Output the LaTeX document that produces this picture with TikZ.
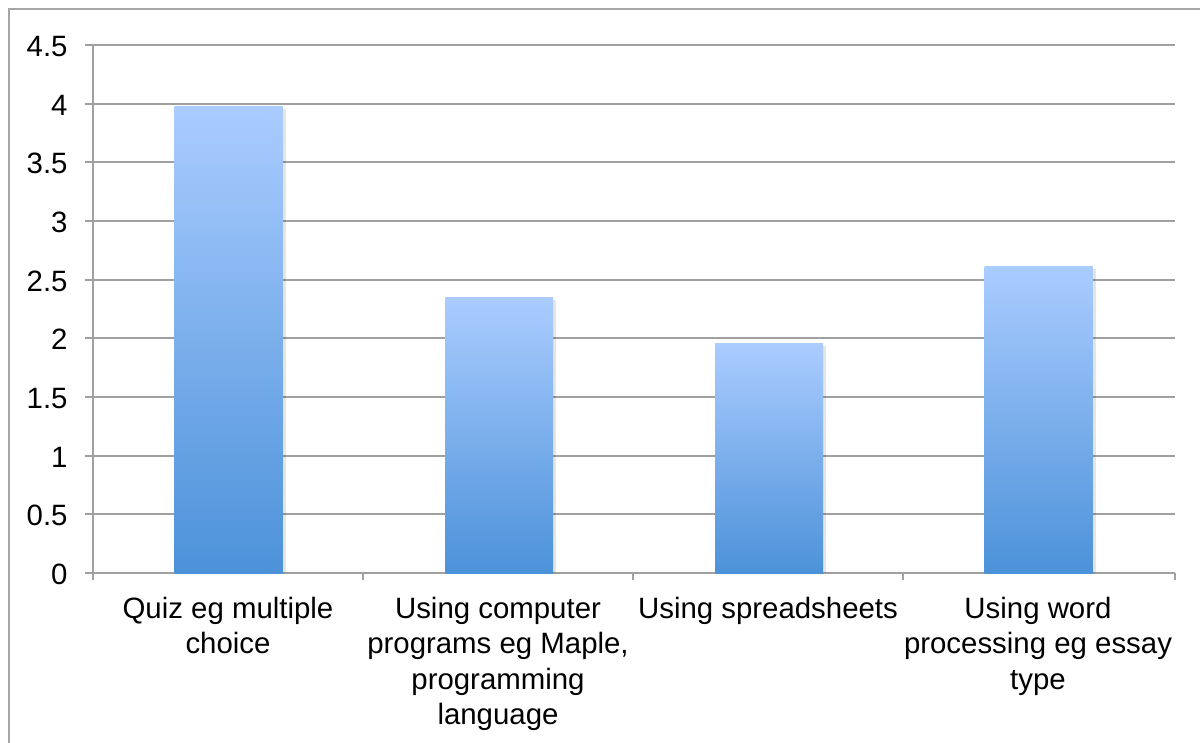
\documentclass[tikz,border=0pt]{standalone}
\usepackage{fontspec}
\setmainfont{Liberation Sans}
\definecolor{framegray}{RGB}{166,166,166}
\definecolor{gridgray}{RGB}{160,160,160}
\definecolor{barTop}{RGB}{170,204,255}
\definecolor{barBot}{RGB}{76,146,217}
\tikzset{
  chartfont/.style={font=\fontsize{14.7}{17.6}\selectfont},
  gridline/.style={draw=gridgray, line width=1pt},
  frameline/.style={draw=framegray, line width=1pt},
  ticklabel/.style={chartfont, anchor=base east, inner sep=0pt},
  catlabel/.style={chartfont, anchor=north, align=center, inner sep=0pt},
  barshade/.style={top color=barTop, bottom color=barBot},
  barshadow/.style={fill=black, opacity=0.10},
}
\begin{document}
\begin{tikzpicture}[x=0.5pt, y=-0.5pt]
  \useasboundingbox (0,0) rectangle (1200,743);
  % outer frame (only top and left edges fall inside the page)
  \draw[frameline] (9,743) -- (9,9) -- (1200,9);

  % horizontal gridlines with their left tick stubs, every 0.5
  \foreach \v/\lab in {0/0, 0.5/0.5, 1/1, 1.5/1.5, 2/2, 2.5/2.5, 3/3, 3.5/3.5, 4/4, 4.5/4.5} {
    \pgfmathsetmacro{\yy}{573 - 117.33*\v}
    \draw[gridline] (85,\yy) -- (1175,\yy);
    \node[ticklabel] (tick\v) at (68,\yy+11.5) {\lab};
  }
  % value axis
  \draw[gridline] (93,45) -- (93,580);
  % category ticks below the base line
  \foreach \xx in {363, 633, 903, 1175} {
    \draw[gridline] (\xx,573) -- (\xx,580);
  }

  % bars: centre x / top y
  \foreach \cx/\ty in {228.5/107, 499/298, 769/344, 1038.5/267} {
    \fill[barshadow] (\cx-54+2,\ty+2) rectangle (\cx+54+3,573);
    \shade[barshade] (\cx-54,\ty) rectangle (\cx+54,573);
  }

  % category labels
  \node[catlabel] (cat1) at (228,597) {Quiz eg multiple\\choice};
  \node[catlabel] (cat2) at (498,597) {Using computer\\programs eg Maple,\\programming\\language};
  \node[catlabel] (cat3) at (768,597) {Using spreadsheets};
  \node[catlabel] (cat4) at (1038,597) {Using word\\processing eg essay\\type};
\end{tikzpicture}
\end{document}
